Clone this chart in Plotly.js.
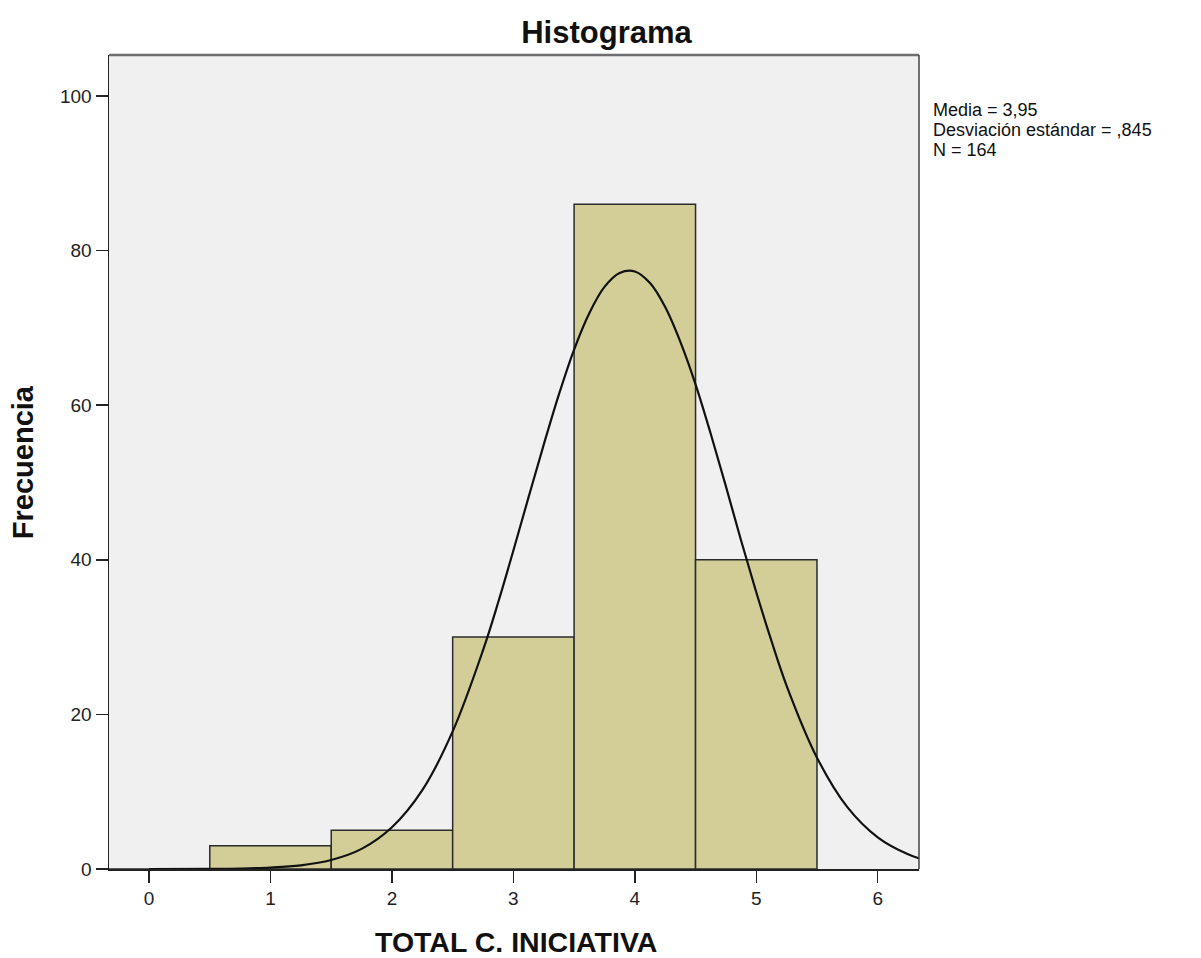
<!DOCTYPE html>
<html>
<head>
<meta charset="utf-8">
<script src="https://cdn.plot.ly/plotly-3.0.1.min.js"></script>
<style>html,body{margin:0;padding:0;background:#fff;}#chart{width:1201px;height:958px;}</style>
</head>
<body>
<div id="chart"></div>
<script>
// Histogram categories (bin centres) and counts
const binCenters = [0, 1, 2, 3, 4, 5];
const counts = [0, 3, 5, 30, 86, 40];
// Normal curve points
const curveX = [0, 0.5, 0.75, 1, 1.25, 1.5, 1.75, 2, 2.25, 2.5, 2.75, 2.875, 3, 3.125, 3.25, 3.375, 3.5, 3.625, 3.75, 3.875, 4, 4.125, 4.25, 4.375, 4.5, 4.625, 4.75, 4.875, 5, 5.125, 5.25, 5.5, 5.75, 6, 6.25, 6.4];
const curveY = [0, 0.02, 0.06, 0.18, 0.47, 1.16, 2.6, 5.4, 10.2, 17.8, 28.3, 34.5, 41.2, 48.1, 54.9, 61.4, 67.2, 71.9, 75.3, 77.1, 77.3, 75.8, 72.7, 68.2, 62.7, 56.3, 49.5, 42.5, 35.8, 29.5, 23.7, 14.4, 8.0, 4.1, 1.9, 1.1];
const xTicks = [0, 1, 2, 3, 4, 5, 6];
const yTicks = [0, 20, 40, 60, 80, 100];
const statsLines = ["Media = 3,95", "Desviación estándar = ,845", "N = 164"];

const FONT = "'Liberation Sans', Arial, sans-serif";

const traces = [
  {
    type: 'bar', x: binCenters, y: counts, width: 1,
    marker: {color: '#D3CE97', line: {color: '#2b2b2b', width: 1.5}},
    hoverinfo: 'skip', showlegend: false
  },
  {
    type: 'scatter', mode: 'lines', x: curveX, y: curveY,
    line: {color: '#111', width: 2.2, shape: 'spline', smoothing: 1},
    hoverinfo: 'skip', showlegend: false, cliponaxis: true
  }
];

const annotations = [
  {text: 'TOTAL C. INICIATIVA', xref: 'paper', yref: 'paper', x: 0.503, y: -0.09, yanchor: 'middle', xanchor: 'center', showarrow: false,
   font: {family: FONT, size: 28.5, color: '#111', weight: 'bold'}},
  {text: 'Frecuencia', xref: 'paper', yref: 'paper', x: -0.106, y: 0.5, xanchor: 'center', yanchor: 'middle', textangle: -90, showarrow: false,
   font: {family: FONT, size: 29, color: '#111', weight: 'bold'}}
];
const lineY = [0.933, 0.908, 0.883];
statsLines.forEach((t, i) => {
  annotations.push({text: t, xref: 'paper', yref: 'paper', x: 1.015, y: lineY[i], xanchor: 'left', yanchor: 'middle', showarrow: false,
    font: {family: FONT, size: 18, color: '#111'}});
});

const layout = {
  width: 1201, height: 958,
  margin: {l: 109, r: 282, t: 55, b: 89},
  paper_bgcolor: '#ffffff', plot_bgcolor: '#F0F0F0',
  bargap: 0,
  title: {text: '<b>Histograma</b>', xref: 'container', x: 0.505, xanchor: 'center', yref: 'container', y: 0.966, yanchor: 'middle',
    font: {family: FONT, size: 31, color: '#111'}},
  xaxis: {range: [-0.33, 6.34], tickvals: xTicks, ticktext: xTicks.map(String), showgrid: false, zeroline: false,
    ticks: 'outside', ticklen: 12, tickwidth: 1.5, tickcolor: '#222', showline: true, linecolor: '#222', linewidth: 1.5,
    tickfont: {family: FONT, size: 19, color: '#222'}},
  yaxis: {range: [0, 105.3], tickvals: yTicks, ticktext: yTicks.map(String), showgrid: false, zeroline: false,
    ticks: 'outside', ticklen: 12, tickwidth: 1.5, tickcolor: '#222', showline: true, linecolor: '#222', linewidth: 1.5,
    tickfont: {family: FONT, size: 19, color: '#222'}},
  shapes: [
    {type: 'line', xref: 'paper', yref: 'paper', x0: 0, x1: 1, y0: 1, y1: 1, line: {color: '#6e6e6e', width: 2.5}},
    {type: 'line', xref: 'paper', yref: 'paper', x0: 1, x1: 1, y0: 0, y1: 1, line: {color: '#444', width: 1.5}}
  ],
  annotations: annotations
};

Plotly.newPlot('chart', traces, layout, {displayModeBar: false, staticPlot: true});
</script>
</body>
</html>
